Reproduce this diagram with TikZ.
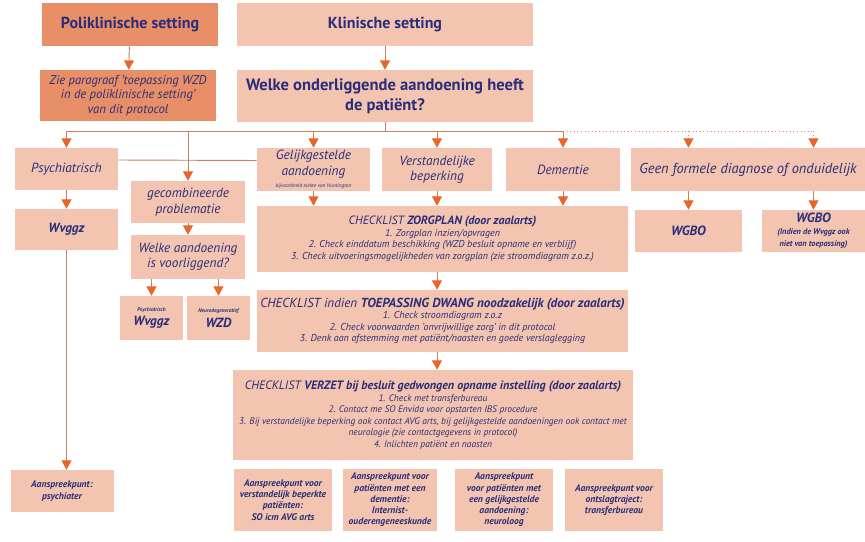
\documentclass[tikz,border=0pt]{standalone}
\usepackage{fontspec}
\setmainfont{PT Sans}
\usepackage{tikz}
\usetikzlibrary{positioning}
\usetikzlibrary{arrows.meta, calc}

\definecolor{boxlight}{RGB}{243,196,176}
\definecolor{boxdark}{RGB}{233,143,104}
\definecolor{navytext}{RGB}{42,46,122}
\definecolor{linebrown}{RGB}{196,128,100}
\definecolor{arroworange}{RGB}{232,102,40}

\tikzset{
  lightbox/.style={rectangle, fill=boxlight, inner sep=1pt, align=center, text=navytext, font=\itshape},
  darkbox/.style={lightbox, fill=boxdark},
  boxsize/.style 2 args={minimum width=#1*0.75pt, minimum height=#2*0.75pt},
  headtext/.style={font=\bfseries\fontsize{12}{14}\selectfont},
  casetext/.style={font=\itshape\fontsize{10}{11.5}\selectfont},
  listtext/.style={font=\itshape\fontsize{7.5}{8.6}\selectfont},
  contacttext/.style={font=\bfseries\itshape\fontsize{7.2}{8.4}\selectfont},
  conn/.style={draw=linebrown, line width=0.7pt},
  arr/.style={conn, -{Triangle[width=7.5pt, length=7pt, color=arroworange]}},
  dotarr/.style={arr, draw=arroworange!75, dotted},
}

\newcommand{\tinylabel}[1]{{\fontsize{4}{5}\selectfont #1}}
\newcommand{\smallnote}[1]{{\fontsize{6.2}{7}\selectfont #1}}

\begin{document}
\begin{tikzpicture}[x=0.75pt, y=-0.75pt]
\useasboundingbox (0,0) rectangle (865,542);

% settings
\node[darkbox, boxsize={176}{43}, headtext] (poli) at (130,24.5) {Poliklinische setting};
\node[lightbox, boxsize={296}{43}, headtext] (klin) at (385,24.5) {Klinische setting};
\node[darkbox, boxsize={176}{51}, font=\itshape\fontsize{9.5}{11}\selectfont] (zie) at (128,95.5)
  {Zie paragraaf 'toepassing WZD\\in de poliklinische setting'\\van dit protocol};
\node[lightbox, boxsize={296}{52}, font=\bfseries\fontsize{12.4}{15}\selectfont] (welke) at (385,96)
  {Welke onderliggende aandoening heeft\\de patiënt?};

% aandoeningen
\coordinate (bus) at (385,131);
\node[lightbox, boxsize={103}{42}, casetext] (psych) at (66.5,169) {Psychiatrisch};
\node[lightbox, boxsize={114}{42}, casetext] (gecomb) at (188,202) {gecombineerde\\problematie};
\node[lightbox, boxsize={113}{43}, casetext] (gelijk) at (313.5,169.5)
  {Gelijkgestelde\\aandoening\\[-2pt]\tinylabel{bijvoorbeeld ziekte van Huntington}};
\node[lightbox, boxsize={110}{43}, casetext] (verst) at (437,169.5) {Verstandelijke\\beperking};
\node[lightbox, boxsize={114}{43}, casetext] (dement) at (563,169.5) {Dementie};
\node[lightbox, boxsize={234}{43}, font=\itshape\fontsize{10.8}{12}\selectfont] (geen) at (748,169.5) {Geen formele diagnose of onduidelijk};

% uitkomsten
\node[lightbox, boxsize={103}{41}, font=\bfseries\itshape\fontsize{10}{11}\selectfont] (wvggzL) at (66.5,229.5) {Wvggz};
\node[lightbox, boxsize={114}{44}, casetext] (welkeaand) at (188,257) {Welke aandoening\\is voorliggend?};
\node[lightbox, boxsize={63}{44}, font=\bfseries\itshape\fontsize{10}{11}\selectfont] (wvggzS) at (151.5,318)
  {\tinylabel{Psychiatrisch}\\Wvggz};
\node[lightbox, boxsize={63}{44}, font=\bfseries\itshape\fontsize{10}{11}\selectfont] (wzd) at (218.5,318)
  {\tinylabel{Neurodegeneratief}\\WZD};
\node[lightbox, boxsize={107}{42}, font=\bfseries\itshape\fontsize{10}{11}\selectfont] (wgbo1) at (688.5,231) {WGBO};
\node[lightbox, boxsize={103}{42}, font=\bfseries\itshape\fontsize{10}{9}\selectfont] (wgbo2) at (813.5,231)
  {WGBO\\\smallnote{(Indien de Wvggz ook}\\\smallnote{niet van toepassing)}};

% checklists
\node[lightbox, boxsize={371}{66}, listtext] (zorg) at (442.5,239)
  {{\fontsize{9}{13}\selectfont CHECKLIST \textbf{ZORGPLAN (door zaalarts)}}\\
   1. Zorgplan inzien/opvragen\\
   2. Check einddatum beschikking (WZD besluit opname en verblijf)\\
   3. Check uitvoeringsmogelijkheden van zorgplan (zie stroomdiagram z.o.z.)};
\node[lightbox, boxsize={371}{62}, listtext] (dwang) at (442.5,321)
  {{\fontsize{9.8}{13}\selectfont CHECKLIST indien \textbf{TOEPASSING DWANG noodzakelijk (door zaalarts)}}\\
   1. Check stroomdiagram z.o.z\\
   2. Check voorwaarden 'onvrijwillige zorg' in dit protocol\\
   3. Denk aan afstemming met patiënt/naasten en goede verslaglegging};
\node[lightbox, boxsize={400}{90}, listtext, font=\itshape\fontsize{7.1}{8.6}\selectfont] (verzet) at (433,415)
  {{\fontsize{9.1}{13}\selectfont CHECKLIST \textbf{VERZET bij besluit gedwongen opname instelling (door zaalarts)}}\\
   1. Check met transferbureau\\
   2. Contact me SO Envida voor opstarten IBS procedure\\
   3. Bij verstandelijke beperking ook contact AVG arts, bij gelijkgestelde aandoeningen ook contact met\\
   neurologie (zie contactgegevens in protocol)\\
   4. Inlichten patiënt en naasten};

% aanspreekpunten
\node[lightbox, boxsize={103}{42}, contacttext] (psychiater) at (62,491) {Aanspreekpunt:\\psychiater};
\node[lightbox, boxsize={98}{62}, contacttext] (avg) at (283,500)
  {Aanspreekpunt voor\\verstandelijk beperkte\\patiënten:\\SO icm AVG arts};
\node[lightbox, boxsize={94}{62}, contacttext] (ouder) at (390,500)
  {Aanspreekpunt voor\\patiënten met een\\dementie:\\Internist-\\ouderengeneeskunde};
\node[lightbox, boxsize={98}{62}, contacttext] (neuro) at (504,500)
  {Aanspreekpunt\\voor patiënten met\\een gelijkgestelde\\aandoening:\\neuroloog};
\node[lightbox, boxsize={98}{62}, contacttext] (transfer) at (614,500)
  {Aanspreekpunt voor\\ontslagtraject:\\transferbureau};

% connectors
\draw[arr] (poli) -- (zie);
\draw[arr] (klin) -- (welke);
\draw[conn] (welke.south) -- (bus);
\draw[conn] (psych.north |- bus) -- (dement.north |- bus);
\draw[conn, draw=arroworange!75, dotted] (dement.north |- bus) -- (wgbo2.north |- bus);
\draw[arr] (psych.north |- bus) -- (psych.north);
\draw[arr] (gecomb.north |- bus) -- (gecomb.north);
\draw[arr] (gelijk.north |- bus) -- (gelijk.north);
\draw[arr] (verst.north |- bus) -- (verst.north);
\draw[arr] (dement.north |- bus) -- (dement.north);
\draw[dotarr] (wgbo1.north |- bus) -- (wgbo1.north |- geen.north);
\draw[dotarr] (wgbo2.north |- bus) -- (wgbo2.north |- geen.north);
\draw[conn] ($(psych.east)+(0,-9)$) -- ($(gelijk.west)+(0,-9)$);

\draw[arr] (psych) -- (wvggzL);
\draw[arr] (wvggzL.south) -- (wvggzL.south |- psychiater.north);
\draw[arr] (gecomb) -- (welkeaand);
\draw[arr] (wvggzS.north |- welkeaand.south) -- (wvggzS.north);
\draw[arr] (wzd.north |- welkeaand.south) -- (wzd.north);
\draw[arr] (wgbo1.north |- geen.south) -- (wgbo1.north);
\draw[arr] (wgbo2.north |- geen.south) -- (wgbo2.north);

\draw[arr] (gelijk.south) -- (gelijk.south |- zorg.north);
\draw[arr] (verst.south) -- (verst.south |- zorg.north);
\draw[arr] (dement.south) -- (dement.south |- zorg.north);
\draw[arr] (verst.south |- zorg.south) -- (verst.south |- dwang.north);
\draw[arr] (verst.south |- dwang.south) -- (verst.south |- verzet.north);

\end{tikzpicture}
\end{document}
